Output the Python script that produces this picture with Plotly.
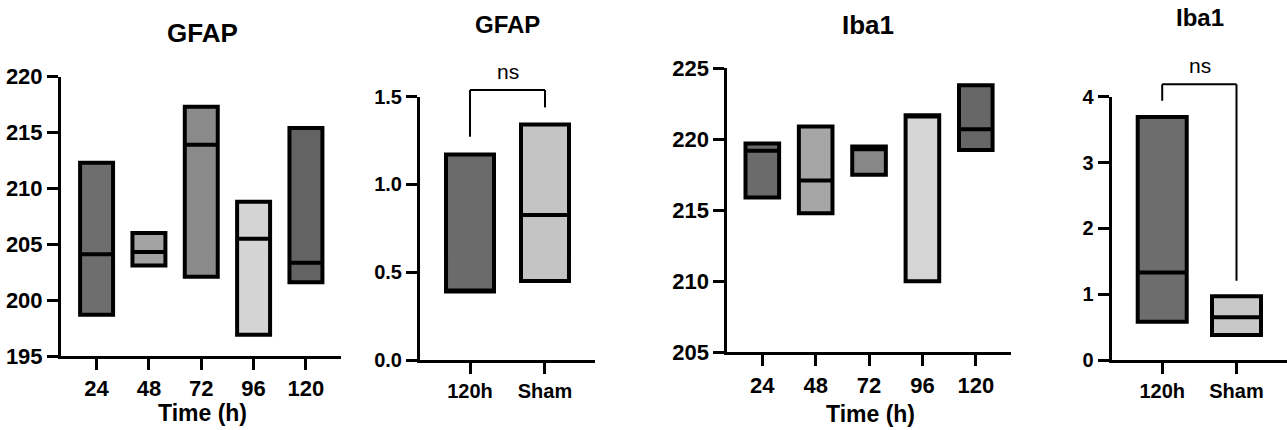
import plotly.graph_objects as go

W, H = 1287, 430

# ---------------- data ----------------
time_labels = ["24", "48", "72", "96", "120"]
grp_labels = ["120h", "Sham"]

gfap_time_min = [198.7, 203.1, 202.1, 196.9, 201.6]
gfap_time_med = [204.1, 204.3, 213.9, 205.5, 203.35]
gfap_time_max = [212.3, 206.0, 217.3, 208.8, 215.4]
gfap_time_colors = ["#6e6e6e", "#a3a3a3", "#8a8a8a", "#d4d4d4", "#636363"]

gfap_grp_min = [0.39, 0.45]
gfap_grp_med = [0.39, 0.826]
gfap_grp_max = [1.171, 1.342]
gfap_grp_colors = ["#6b6b6b", "#c4c4c4"]

iba_time_min = [215.9, 214.8, 217.5, 210.0, 219.25]
iba_time_med = [219.2, 217.1, 219.3, 221.6, 220.7]
iba_time_max = [219.7, 220.9, 219.5, 221.7, 223.8]
iba_time_colors = ["#6b6b6b", "#a6a6a6", "#878787", "#d5d5d5", "#676767"]

iba_grp_min = [0.58, 0.38]
iba_grp_med = [1.33, 0.65]
iba_grp_max = [3.69, 0.97]
iba_grp_colors = ["#6d6d6d", "#c8c8c8"]

# significance brackets: [left leg bottom, bracket top, right leg bottom]
gfap_bracket = [1.272, 1.538, 1.439]
iba_bracket = [3.94, 4.19, 1.205]
sig_text = "ns"

gfap_yrange = [195, 220]
gfap_grp_yrange = [0, 1.5]
iba_yrange = [205, 225]
iba_grp_yrange = [0, 4]

# ---------------- layout helpers ----------------
def px_x(p):
    return p / W

def px_y(p):
    return 1 - p / H

FONT = "Liberation Sans"
fig = go.Figure()

panels = [
    ("", time_labels, gfap_time_min, gfap_time_med, gfap_time_max, gfap_time_colors,
     gfap_yrange, 5, 61, 341, 76.7, 356, [-0.68, 4.67], 0.63, None, 22),
    ("2", grp_labels, gfap_grp_min, gfap_grp_med, gfap_grp_max, gfap_grp_colors,
     gfap_grp_yrange, 0.5, 420, 595, 96.7, 360, [-0.667, 1.667], 0.64, ".1f", 20),
    ("3", time_labels, iba_time_min, iba_time_med, iba_time_max, iba_time_colors,
     iba_yrange, 5, 727.3, 1011, 68.3, 352.3, [-0.656, 4.66], 0.63, None, 22),
    ("4", grp_labels, iba_grp_min, iba_grp_med, iba_grp_max, iba_grp_colors,
     iba_grp_yrange, 1, 1111.7, 1287, 96.7, 360, [-0.68, 1.68], 0.66, None, 20),
]

for (suf, labels, mins, meds, maxs, colors, yr, dt, x0, x1, yt, yb, xr, bw, fmt, fs) in panels:
    for lab, lo, md, hi, c in zip(labels, mins, meds, maxs, colors):
        fig.add_trace(go.Box(
            x=[lab], q1=[lo], median=[md], q3=[hi], lowerfence=[lo], upperfence=[hi],
            fillcolor=c, line=dict(color="black", width=4), width=bw,
            whiskerwidth=0, boxpoints=False, hoverinfo="skip", showlegend=False,
            xaxis="x" + suf, yaxis="y" + suf,
        ))
    xa = dict(
        domain=[px_x(x0), px_x(x1)], anchor="y" + suf, type="category",
        categoryorder="array", categoryarray=labels, range=xr, automargin=False,
        showline=True, linecolor="black", linewidth=3, showgrid=False, zeroline=False,
        ticks="outside", ticklen=11, tickwidth=3, tickcolor="black",
        tickfont=dict(family=FONT, size=fs, color="black", weight="bold"),
        fixedrange=True,
    )
    ya = dict(
        domain=[px_y(yb), px_y(yt)], anchor="x" + suf, range=yr, dtick=dt, tick0=yr[0],
        automargin=False,
        showline=True, linecolor="black", linewidth=3, showgrid=False, zeroline=False,
        ticks="outside", ticklen=11, tickwidth=3, tickcolor="black",
        tickfont=dict(family=FONT, size=fs, color="black", weight="bold"),
        fixedrange=True,
    )
    if fmt:
        ya["tickformat"] = fmt
    fig.layout["xaxis" + suf] = xa
    fig.layout["yaxis" + suf] = ya

# significance brackets: x in category index, y as fraction of the y-axis span
shapes = []
for suf, br, yr in [("2", gfap_bracket, gfap_grp_yrange), ("4", iba_bracket, iba_grp_yrange)]:
    f = [(v - yr[0]) / (yr[1] - yr[0]) for v in br]
    for (xa0, ya0, xa1, ya1) in [(0, f[0], 0, f[1]), (0, f[1], 1, f[1]), (1, f[1], 1, f[2])]:
        shapes.append(dict(
            type="line", xref="x" + suf, yref="y" + suf + " domain",
            x0=xa0, y0=ya0, x1=xa1, y1=ya1,
            line=dict(color="black", width=2), layer="above",
        ))

annotations = []
def ann(text, xp, yp, size, bold=True):
    annotations.append(dict(
        text=text, x=px_x(xp), y=px_y(yp), xref="paper", yref="paper",
        showarrow=False, xanchor="center", yanchor="middle",
        font=dict(family=FONT, size=size, color="black", weight="bold" if bold else "normal"),
    ))

ann("GFAP", 202, 33, 26)
ann("GFAP", 508, 24, 24)
ann("Iba1", 868, 25, 26)
ann("Iba1", 1200, 17, 24)
ann(sig_text, 508, 71, 21, bold=False)
ann(sig_text, 1200, 65, 21, bold=False)
ann("Time (h)", 202, 413, 23)
ann("Time (h)", 870, 414, 23)

fig.update_layout(
    width=W, height=H, margin=dict(l=0, r=0, t=0, b=0),
    paper_bgcolor="white", plot_bgcolor="white",
    annotations=annotations, shapes=shapes, showlegend=False,
    boxmode="overlay",
)

fig.write_html(
    "out.html",
    config={"displayModeBar": False, "staticPlot": True},
    post_script="document.body.style.margin='0';document.body.style.overflow='hidden';",
)
